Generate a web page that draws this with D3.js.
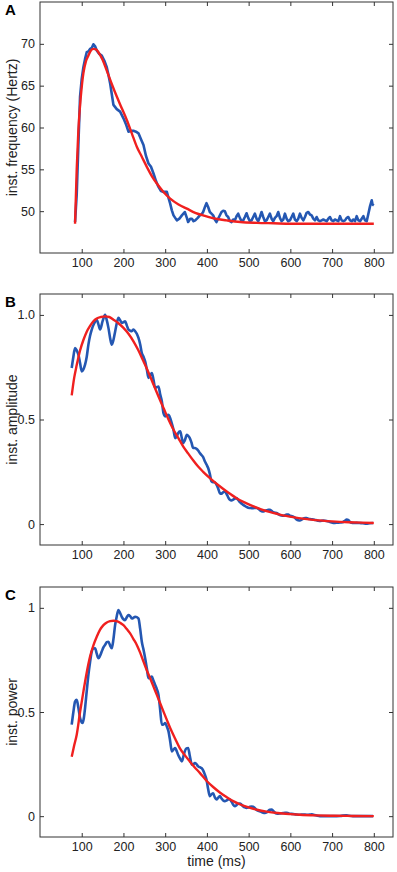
<!DOCTYPE html>
<html>
<head>
<meta charset="utf-8">
<script src="https://cdn.jsdelivr.net/npm/d3@7"></script>
<style>
  html, body { margin: 0; padding: 0; background: #fff; }
  svg { display: block; font-family: "Liberation Sans", Arial, sans-serif; }
</style>
</head>
<body>
<svg width="397" height="872"></svg>
<script>
// time ticks shared by all three panels
const timeTicks = [100, 200, 300, 400, 500, 600, 700, 800];

// panel A: instantaneous frequency (Hertz), [time, value]
const freqTicks = [50, 55, 60, 65, 70];
const freqData = [
  [84, 48.7], [88, 52], [92, 58], [96, 63.7], [100, 65.8], [104, 67.2], [108, 68.2], [112, 69.0],
  [116, 69.1], [120, 69.4], [124, 69.5], [128, 69.95], [132, 69.7], [136, 69.2], [142, 68.8],
  [148, 68.6], [154, 68.0], [160, 67.2], [164, 66.3], [168, 65.3], [172, 64.0], [176, 62.7],
  [184, 62.2], [192, 61.9], [200, 61.1], [206, 60.4], [212, 59.5], [218, 59.6], [224, 59.6],
  [230, 59.5], [236, 59.3], [242, 58.6], [248, 57.9], [254, 56.6], [260, 55.7], [266, 55.3],
  [272, 54.5], [278, 53.6], [284, 52.9], [290, 52.4], [296, 52.3], [304, 52.3], [308, 51.6],
  [312, 50.9], [316, 50.1], [320, 49.5], [328, 48.9], [334, 49.1], [340, 49.5], [347, 49.9],
  [352, 49.2], [355, 48.7], [360, 49.1], [364, 49.1], [368, 48.8], [372, 48.9], [378, 49.2],
  [383, 49.5], [387, 49.6], [391, 49.9], [396, 50.6], [399, 50.95], [403, 50.5], [407, 49.9],
  [411, 49.7], [415, 49.5], [419, 49.0], [423, 48.7], [429, 49.3], [435, 49.9], [439, 50.05],
  [443, 50.0], [447, 49.5], [451, 49.3], [455, 48.8], [459, 48.7], [463, 49.0], [467, 48.9],
  [471, 49.4], [475, 49.7], [479, 49.2], [483, 48.8], [487, 48.9], [491, 49.3], [495, 49.75],
  [499, 49.2], [503, 48.8], [507, 48.9], [511, 49.3], [515, 49.7], [519, 49.1], [523, 48.8],
  [527, 49.3], [531, 49.9], [535, 49.3], [539, 48.8], [543, 48.9], [547, 49.3], [551, 49.7],
  [555, 49.1], [559, 48.8], [563, 49.2], [567, 49.4], [571, 49.9], [575, 49.2], [579, 48.8],
  [583, 49.0], [587, 49.7], [591, 49.1], [595, 48.8], [599, 48.9], [603, 49.3], [607, 49.7],
  [611, 49.0], [615, 48.8], [619, 49.1], [623, 49.7], [627, 49.2], [631, 48.9], [635, 49.3],
  [639, 49.8], [643, 49.9], [647, 49.6], [651, 49.5], [655, 49.1], [659, 48.9], [663, 49.3],
  [667, 48.9], [671, 48.8], [675, 48.9], [679, 49.0], [683, 48.9], [687, 48.8], [691, 49.1],
  [695, 49.3], [699, 48.9], [703, 48.8], [707, 49.0], [711, 48.9], [715, 48.8], [719, 49.4],
  [723, 48.9], [727, 48.8], [731, 48.9], [735, 49.2], [739, 49.3], [743, 48.9], [747, 48.8],
  [751, 49.0], [755, 48.8], [759, 49.4], [763, 48.9], [767, 48.8], [771, 49.1], [775, 49.4],
  [779, 48.9], [783, 48.8], [787, 49.7], [791, 50.6], [795, 51.3], [797, 50.8], [800, 50.7]
];
const freqFit = [
  [84, 48.5], [88, 55], [92, 59.7], [98, 63.8], [104, 66.5], [110, 67.9], [116, 68.6],
  [122, 69.2], [128, 69.4], [134, 69.35], [140, 69.0], [150, 68.1], [160, 66.8], [172, 65.2],
  [184, 63.7], [196, 62.3], [208, 60.9], [220, 59.3], [232, 57.7], [244, 56.5], [256, 55.3],
  [268, 54.2], [280, 53.3], [296, 52.3], [312, 51.5], [332, 50.8], [352, 50.3], [372, 49.8],
  [391, 49.5], [420, 49.1], [447, 48.9], [480, 48.7], [520, 48.6], [560, 48.55], [600, 48.5],
  [700, 48.5], [800, 48.5]
];

// panel B: instantaneous amplitude
const ampTicks = [0, 0.5, 1.0];
const ampData = [
  [76, 0.746], [80, 0.80], [84, 0.842], [88, 0.83], [92, 0.81], [96, 0.77], [100, 0.73],
  [104, 0.74], [108, 0.762], [112, 0.80], [116, 0.858], [120, 0.90], [124, 0.93], [130, 0.96],
  [136, 0.977], [140, 0.955], [144, 0.93], [150, 0.97], [156, 1.0], [160, 0.975], [164, 0.938],
  [168, 0.89], [172, 0.858], [176, 0.88], [180, 0.92], [184, 0.96], [188, 0.986], [192, 0.975],
  [196, 0.962], [200, 0.965], [204, 0.97], [208, 0.95], [212, 0.93], [216, 0.925], [220, 0.922],
  [224, 0.93], [228, 0.922], [232, 0.91], [236, 0.89], [240, 0.86], [244, 0.818], [248, 0.80],
  [252, 0.778], [256, 0.74], [260, 0.699], [264, 0.71], [268, 0.722], [272, 0.69], [276, 0.651],
  [280, 0.655], [284, 0.658], [288, 0.62], [292, 0.587], [296, 0.53], [300, 0.515], [308, 0.523],
  [316, 0.48], [320, 0.45], [324, 0.411], [328, 0.42], [331, 0.435], [336, 0.443], [340, 0.41],
  [343, 0.388], [347, 0.40], [352, 0.427], [356, 0.42], [359, 0.411], [363, 0.39], [367, 0.364],
  [371, 0.364], [375, 0.36], [379, 0.352], [383, 0.34], [387, 0.33], [391, 0.32], [395, 0.30],
  [399, 0.285], [403, 0.268], [407, 0.24], [411, 0.204], [415, 0.20], [419, 0.20], [423, 0.188],
  [427, 0.17], [431, 0.148], [435, 0.145], [439, 0.152], [443, 0.156], [447, 0.145], [451, 0.128],
  [455, 0.116], [459, 0.113], [463, 0.117], [467, 0.122], [471, 0.124], [475, 0.115], [479, 0.105],
  [483, 0.098], [487, 0.092], [491, 0.087], [495, 0.082], [499, 0.078], [503, 0.077], [507, 0.076],
  [511, 0.076], [515, 0.077], [519, 0.077], [523, 0.074], [527, 0.066], [531, 0.061], [535, 0.06],
  [539, 0.063], [543, 0.066], [547, 0.068], [551, 0.068], [555, 0.063], [559, 0.057], [563, 0.054],
  [567, 0.053], [571, 0.048], [575, 0.043], [579, 0.041], [583, 0.04], [587, 0.042], [591, 0.045],
  [595, 0.045], [599, 0.04], [603, 0.038], [607, 0.036], [611, 0.03], [615, 0.022], [619, 0.018],
  [623, 0.017], [627, 0.021], [631, 0.026], [635, 0.029], [639, 0.029], [643, 0.026], [647, 0.024],
  [651, 0.023], [655, 0.022], [659, 0.02], [663, 0.018], [667, 0.016], [671, 0.015], [679, 0.017],
  [687, 0.015], [695, 0.01], [703, 0.005], [711, 0.006], [719, 0.008], [725, 0.009], [731, 0.016],
  [735, 0.022], [739, 0.019], [743, 0.01], [747, 0.006], [751, 0.005], [759, 0.006], [766, 0.005],
  [774, 0.004], [782, 0.002], [790, 0.004], [798, 0.005]
];
const ampFit = [
  [76, 0.615], [82, 0.70], [88, 0.76], [96, 0.83], [104, 0.88], [112, 0.92], [120, 0.948],
  [128, 0.97], [136, 0.983], [146, 0.99], [156, 0.993], [166, 0.99], [176, 0.977], [188, 0.96],
  [200, 0.938], [212, 0.91], [224, 0.874], [236, 0.83], [248, 0.778], [260, 0.725], [272, 0.667],
  [284, 0.61], [296, 0.555], [308, 0.50], [320, 0.451], [332, 0.41], [343, 0.372], [355, 0.338],
  [367, 0.305], [379, 0.275], [391, 0.25], [410, 0.215], [430, 0.182], [450, 0.152], [470, 0.125],
  [490, 0.104], [510, 0.086], [530, 0.07], [550, 0.058], [570, 0.048], [590, 0.039], [610, 0.032],
  [630, 0.026], [660, 0.019], [700, 0.013], [740, 0.009], [770, 0.007], [800, 0.005]
];

// panel C: instantaneous power
const powTicks = [0, 0.5, 1];
const powData = [
  [76, 0.439], [80, 0.50], [84, 0.55], [88, 0.558], [92, 0.52], [96, 0.471], [100, 0.45],
  [102, 0.447], [105, 0.47], [108, 0.519], [112, 0.60], [116, 0.678], [120, 0.74], [124, 0.79],
  [128, 0.805], [132, 0.806], [136, 0.78], [140, 0.758], [144, 0.77], [148, 0.79], [152, 0.81],
  [156, 0.822], [160, 0.835], [164, 0.837], [168, 0.82], [172, 0.806], [176, 0.85], [180, 0.917],
  [184, 0.96], [188, 0.989], [192, 0.975], [196, 0.957], [200, 0.945], [204, 0.941], [208, 0.955],
  [212, 0.965], [216, 0.96], [220, 0.949], [224, 0.952], [228, 0.957], [232, 0.955], [236, 0.949],
  [240, 0.90], [244, 0.837], [248, 0.80], [252, 0.758], [256, 0.71], [260, 0.662], [264, 0.665],
  [268, 0.67], [272, 0.65], [276, 0.63], [280, 0.61], [284, 0.582], [288, 0.51], [292, 0.439],
  [296, 0.44], [300, 0.447], [304, 0.43], [308, 0.407], [312, 0.36], [316, 0.311], [320, 0.32],
  [324, 0.327], [328, 0.31], [331, 0.295], [336, 0.275], [340, 0.263], [344, 0.29], [347, 0.311],
  [351, 0.325], [355, 0.327], [359, 0.29], [364, 0.247], [368, 0.25], [371, 0.255], [375, 0.25],
  [379, 0.239], [383, 0.235], [387, 0.231], [391, 0.22], [395, 0.20], [399, 0.176], [403, 0.13],
  [407, 0.096], [411, 0.105], [415, 0.11], [419, 0.09], [423, 0.08], [427, 0.088], [431, 0.096],
  [435, 0.085], [439, 0.075], [443, 0.072], [447, 0.075], [451, 0.08], [455, 0.08], [459, 0.07],
  [463, 0.055], [467, 0.048], [471, 0.053], [475, 0.06], [479, 0.061], [483, 0.055], [487, 0.047],
  [491, 0.042], [495, 0.04], [499, 0.042], [503, 0.045], [507, 0.046], [511, 0.045], [515, 0.038],
  [519, 0.03], [523, 0.026], [527, 0.024], [531, 0.02], [535, 0.017], [539, 0.016], [543, 0.018],
  [547, 0.025], [551, 0.031], [555, 0.032], [559, 0.025], [563, 0.017], [567, 0.013], [571, 0.012],
  [575, 0.013], [579, 0.014], [583, 0.015], [587, 0.016], [591, 0.016], [595, 0.014], [599, 0.012],
  [603, 0.011], [607, 0.01], [611, 0.009], [615, 0.008], [623, 0.007], [631, 0.008], [639, 0.007],
  [647, 0.008], [651, 0.009], [655, 0.007], [663, 0.003], [671, 0.0], [687, 0.0], [703, 0.0],
  [719, 0.001], [734, 0.004], [740, 0.002], [750, 0.0], [770, 0.0], [798, 0.0]
];
const powFit = [
  [76, 0.285], [82, 0.34], [88, 0.391], [96, 0.50], [104, 0.598], [112, 0.69], [120, 0.766],
  [128, 0.82], [136, 0.861], [144, 0.895], [152, 0.917], [160, 0.93], [168, 0.936], [176, 0.938],
  [184, 0.936], [192, 0.928], [200, 0.917], [208, 0.898], [216, 0.877], [224, 0.85], [232, 0.822],
  [240, 0.785], [248, 0.742], [256, 0.70], [264, 0.662], [272, 0.622], [280, 0.582], [288, 0.542],
  [296, 0.502], [304, 0.462], [312, 0.423], [324, 0.372], [335, 0.327], [347, 0.293], [359, 0.263],
  [371, 0.234], [383, 0.208], [399, 0.17], [415, 0.14], [431, 0.114], [447, 0.092], [463, 0.072],
  [480, 0.056], [500, 0.042], [520, 0.031], [543, 0.022], [570, 0.015], [600, 0.01], [623, 0.007],
  [660, 0.004], [703, 0.002], [750, 0.001], [800, 0.0]
];

const svg = d3.select("svg");
const left = 40, right = 393;
const blue = "#2457b2", red = "#f0201f";

const scX = d3.scaleLinear().domain([0, 846]).range([left, right]);

function drawPanel(cfg) {
  const scY = d3.scaleLinear().domain(cfg.yDomain).range([cfg.bottom, cfg.top]);
  const g = svg.append("g");

  // ticks (inside, on all four sides)
  g.append("g")
    .attr("transform", `translate(0, ${cfg.bottom})`)
    .call(d3.axisBottom(scX).tickValues(timeTicks).tickSize(-4).tickPadding(5))
    .call(a => a.select(".domain").remove());
  g.append("g")
    .attr("transform", `translate(0, ${cfg.top})`)
    .call(d3.axisTop(scX).tickValues(timeTicks).tickSize(-4).tickFormat(""))
    .call(a => a.select(".domain").remove());
  g.append("g")
    .attr("transform", `translate(${left}, 0)`)
    .call(d3.axisLeft(scY).tickValues(cfg.yTicks).tickSize(-4).tickPadding(5).tickFormat(cfg.fmt))
    .call(a => a.select(".domain").remove());
  g.append("g")
    .attr("transform", `translate(${right}, 0)`)
    .call(d3.axisRight(scY).tickValues(cfg.yTicks).tickSize(-4).tickFormat(""))
    .call(a => a.select(".domain").remove());

  g.selectAll(".tick line").attr("stroke", "#333");
  g.selectAll(".tick text")
    .attr("fill", "#222")
    .style("font-size", "12.5px")
    .style("font-family", "'Liberation Sans', Arial, sans-serif");

  g.append("rect")
    .attr("x", left).attr("y", cfg.top)
    .attr("width", right - left).attr("height", cfg.bottom - cfg.top)
    .attr("fill", "none").attr("stroke", "#333").attr("stroke-width", 1);

  const line = d3.line()
    .x(d => scX(d[0]))
    .y(d => scY(d[1]));

  g.append("path")
    .datum(cfg.data)
    .attr("fill", "none")
    .attr("stroke", blue)
    .attr("stroke-width", 2.6)
    .attr("stroke-linejoin", "round")
    .attr("d", line.curve(cfg.rough ? d3.curveLinear : d3.curveMonotoneX));

  g.append("path")
    .datum(cfg.fit)
    .attr("fill", "none")
    .attr("stroke", red)
    .attr("stroke-width", 2.4)
    .attr("d", line.curve(d3.curveMonotoneX));

  g.append("text")
    .attr("x", 5).attr("y", cfg.top + 13)
    .style("font-size", "15px").style("font-weight", "bold")
    .text(cfg.letter);

  g.append("text")
    .attr("transform", `translate(17, ${(cfg.top + cfg.bottom) / 2}) rotate(-90)`)
    .attr("text-anchor", "middle")
    .attr("fill", "#222")
    .style("font-size", "14px")
    .text(cfg.label);
}

drawPanel({
  letter: "A", label: "inst. frequency (Hertz)", top: 2, bottom: 253,
  yDomain: [45, 75], yTicks: freqTicks, fmt: d3.format("d"),
  data: freqData, fit: freqFit, rough: true
});
drawPanel({
  letter: "B", label: "inst. amplitude", top: 294, bottom: 545,
  yDomain: [-0.1, 1.1], yTicks: ampTicks, fmt: d => d === 0 ? "0" : d3.format(".1f")(d),
  data: ampData, fit: ampFit, rough: false
});
drawPanel({
  letter: "C", label: "inst. power", top: 587, bottom: 837,
  yDomain: [-0.1, 1.1], yTicks: powTicks, fmt: d => String(d),
  data: powData, fit: powFit, rough: false
});

svg.append("text")
  .attr("x", (left + right) / 2).attr("y", 866)
  .attr("text-anchor", "middle")
  .attr("fill", "#222")
  .style("font-size", "14px")
  .text("time (ms)");
</script>
</body>
</html>
